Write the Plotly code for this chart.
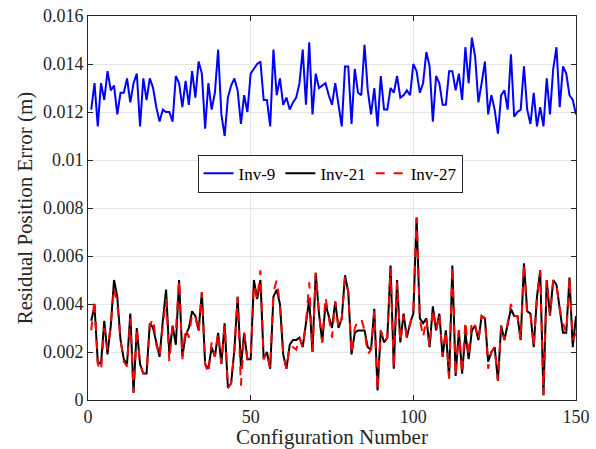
import plotly.graph_objects as go

config = list(range(1, 151))

inv9 = [
    0.0121, 0.0132, 0.0114, 0.0132, 0.0125, 0.0137, 0.0129, 0.0131, 0.0119, 0.0128,
    0.0128, 0.0134, 0.0124, 0.0132, 0.0136, 0.0114, 0.0134, 0.0125, 0.0134, 0.0130,
    0.0122, 0.0116, 0.0121, 0.0120, 0.0120, 0.0116, 0.0135, 0.0132, 0.0122, 0.0133,
    0.0123, 0.0137, 0.0126, 0.0141, 0.0136, 0.0113, 0.0132, 0.0121, 0.0128, 0.0146,
    0.0119, 0.0110, 0.0126, 0.0131, 0.0134, 0.0129, 0.0115, 0.0127, 0.0120, 0.0136,
    0.0138, 0.0140, 0.0141, 0.0125, 0.0125, 0.0114, 0.0146, 0.0127, 0.0134, 0.0123,
    0.0126, 0.0121, 0.0124, 0.0126, 0.0132, 0.0146, 0.0123, 0.0149, 0.0119, 0.0136,
    0.0130, 0.0131, 0.0132, 0.0127, 0.0123, 0.0132, 0.0122, 0.0114, 0.0139, 0.0139,
    0.0115, 0.0138, 0.0128, 0.0127, 0.0148, 0.0129, 0.0119, 0.0130, 0.0114, 0.0135,
    0.0121, 0.0121, 0.0130, 0.0128, 0.0135, 0.0126, 0.0127, 0.0129, 0.0127, 0.0140,
    0.0137, 0.0128, 0.0132, 0.0145, 0.0139, 0.0116, 0.0135, 0.0132, 0.0123, 0.0123,
    0.0137, 0.0137, 0.0129, 0.0136, 0.0125, 0.0147, 0.0132, 0.0151, 0.0143, 0.0124,
    0.0132, 0.0141, 0.0119, 0.0127, 0.0121, 0.0111, 0.0127, 0.0129, 0.0121, 0.0144,
    0.0118, 0.0120, 0.0121, 0.0139, 0.0121, 0.0115, 0.0128, 0.0114, 0.0122, 0.0114,
    0.0134, 0.0119, 0.0138, 0.0147, 0.0122, 0.0139, 0.0136, 0.0127, 0.0125, 0.0119,
]

inv21 = [
    0.0033, 0.0039, 0.0016, 0.0015, 0.0033, 0.0019, 0.0031, 0.0050, 0.0043, 0.0025,
    0.0017, 0.0015, 0.0036, 0.0003, 0.0030, 0.0015, 0.0011, 0.0011, 0.0032, 0.0030,
    0.0024, 0.0018, 0.0033, 0.0046, 0.0019, 0.0031, 0.0023, 0.0050, 0.0018, 0.0027,
    0.0030, 0.0037, 0.0035, 0.0029, 0.0045, 0.0015, 0.0013, 0.0022, 0.0018, 0.0028,
    0.0015, 0.0032, 0.0005, 0.0007, 0.0021, 0.0043, 0.0014, 0.0028, 0.0017, 0.0017,
    0.0050, 0.0042, 0.0050, 0.0017, 0.0020, 0.0013, 0.0043, 0.0046, 0.0040, 0.0019,
    0.0013, 0.0023, 0.0025, 0.0025, 0.0026, 0.0022, 0.0032, 0.0042, 0.0020, 0.0053,
    0.0036, 0.0024, 0.0040, 0.0035, 0.0030, 0.0041, 0.0030, 0.0034, 0.0052, 0.0045,
    0.0019, 0.0028, 0.0029, 0.0029, 0.0029, 0.0022, 0.0021, 0.0038, 0.0004, 0.0029,
    0.0024, 0.0026, 0.0056, 0.0013, 0.0050, 0.0024, 0.0036, 0.0026, 0.0032, 0.0036,
    0.0076, 0.0034, 0.0032, 0.0034, 0.0022, 0.0039, 0.0029, 0.0036, 0.0018, 0.0029,
    0.0009, 0.0056, 0.0010, 0.0029, 0.0011, 0.0028, 0.0017, 0.0029, 0.0031, 0.0025,
    0.0035, 0.0034, 0.0016, 0.0020, 0.0022, 0.0008, 0.0031, 0.0025, 0.0032, 0.0038,
    0.0035, 0.0035, 0.0025, 0.0057, 0.0037, 0.0036, 0.0022, 0.0043, 0.0054, 0.0002,
    0.0050, 0.0035, 0.0050, 0.0048, 0.0038, 0.0028, 0.0028, 0.0051, 0.0022, 0.0035,
]

inv27 = [
    0.0029, 0.0042, 0.0015, 0.0012, 0.0030, 0.0021, 0.0031, 0.0047, 0.0040, 0.0025,
    0.0016, 0.0014, 0.0034, 0.0003, 0.0030, 0.0015, 0.0011, 0.0011, 0.0031, 0.0034,
    0.0023, 0.0018, 0.0031, 0.0042, 0.0016, 0.0031, 0.0029, 0.0050, 0.0017, 0.0030,
    0.0026, 0.0036, 0.0035, 0.0028, 0.0045, 0.0015, 0.0011, 0.0024, 0.0018, 0.0028,
    0.0015, 0.0031, 0.0005, 0.0007, 0.0021, 0.0043, 0.0006, 0.0028, 0.0017, 0.0017,
    0.0048, 0.0042, 0.0054, 0.0017, 0.0020, 0.0013, 0.0045, 0.0050, 0.0040, 0.0019,
    0.0013, 0.0023, 0.0022, 0.0021, 0.0026, 0.0022, 0.0032, 0.0049, 0.0020, 0.0053,
    0.0036, 0.0024, 0.0043, 0.0035, 0.0026, 0.0041, 0.0030, 0.0034, 0.0051, 0.0045,
    0.0019, 0.0030, 0.0033, 0.0034, 0.0029, 0.0019, 0.0021, 0.0037, 0.0004, 0.0029,
    0.0024, 0.0026, 0.0055, 0.0013, 0.0049, 0.0024, 0.0035, 0.0026, 0.0032, 0.0037,
    0.0076, 0.0034, 0.0026, 0.0034, 0.0022, 0.0038, 0.0029, 0.0036, 0.0018, 0.0029,
    0.0009, 0.0056, 0.0010, 0.0029, 0.0011, 0.0033, 0.0018, 0.0033, 0.0031, 0.0025,
    0.0035, 0.0034, 0.0013, 0.0020, 0.0022, 0.0008, 0.0031, 0.0025, 0.0032, 0.0040,
    0.0035, 0.0035, 0.0025, 0.0057, 0.0035, 0.0036, 0.0022, 0.0043, 0.0054, 0.0002,
    0.0050, 0.0035, 0.0050, 0.0048, 0.0038, 0.0032, 0.0028, 0.0051, 0.0025, 0.0028,
]

x_ticks = [0, 50, 100, 150]
y_ticks = [0, 0.002, 0.004, 0.006, 0.008, 0.01, 0.012, 0.014, 0.016]
y_ticktext = ["0", "0.002", "0.004", "0.006", "0.008", "0.01", "0.012", "0.014", "0.016"]

FONT = "Liberation Serif"

fig = go.Figure()
fig.add_trace(go.Scatter(x=config, y=inv9, mode="lines", name="Inv-9",
                         line=dict(color="#0000ff", width=2)))
fig.add_trace(go.Scatter(x=config, y=inv21, mode="lines", name="Inv-21",
                         line=dict(color="#000000", width=2)))
fig.add_trace(go.Scatter(x=config, y=inv27, mode="lines", name="Inv-27",
                         line=dict(color="#ff0000", width=2, dash="dash")))

axis_common = dict(
    showline=True, linecolor="#262626", linewidth=1, mirror="ticks",
    ticks="inside", ticklen=5, tickcolor="#262626",
    showgrid=True, gridcolor="#e6e6e6", gridwidth=1,
    zeroline=False, automargin=False,
    tickfont=dict(family=FONT, size=18, color="#262626"),
)

fig.update_layout(
    width=596, height=449,
    margin=dict(l=88, r=20, t=16, b=49),
    paper_bgcolor="white", plot_bgcolor="white",
    font=dict(family=FONT, color="#262626"),
    xaxis=dict(range=[0, 150], tickvals=x_ticks,
               title=dict(text="Configuration Number", font=dict(family=FONT, size=21, color="#262626"), standoff=6),
               **axis_common),
    yaxis=dict(range=[0, 0.016], tickvals=y_ticks, ticktext=y_ticktext,
               title=dict(text="Residual Position Error (m)", font=dict(family=FONT, size=21, color="#262626"), standoff=4),
               **axis_common),
    legend=dict(orientation="h", x=0.496, y=0.589, xanchor="center", yanchor="middle",
                bgcolor="white", bordercolor="#262626", borderwidth=1,
                font=dict(family=FONT, size=17, color="#000000"),
                itemwidth=30, tracegroupgap=0),
    showlegend=True,
)

fig.write_html("out.html")
